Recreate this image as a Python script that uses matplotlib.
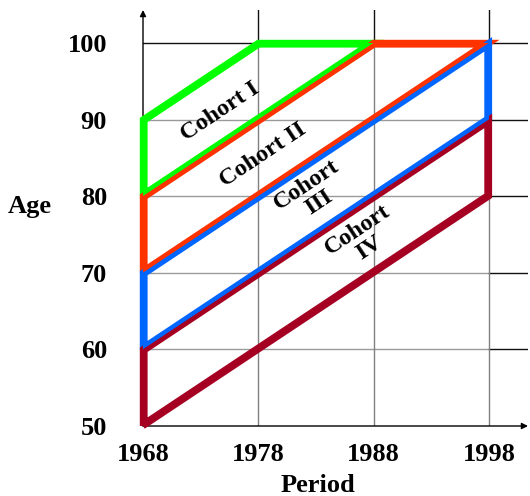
import matplotlib
matplotlib.use("Agg")
import matplotlib.pyplot as plt
from matplotlib.patches import Polygon

# ---- data ----
period_ticks = [1968, 1978, 1988, 1998]
age_ticks = [50, 60, 70, 80, 90, 100]

cohort_names = ["Cohort I", "Cohort II", "Cohort\nIII", "Cohort\nIV"]
cohort_colors = ["#00FF00", "#FF3300", "#0066FF", "#A50021"]

periods_I = [1968, 1968, 1978, 1988, 1968]
ages_I = [80, 90, 100, 100, 80]
periods_II = [1968, 1968, 1988, 1998, 1968]
ages_II = [70, 80, 100, 100, 70]
periods_III = [1968, 1968, 1998, 1998, 1968]
ages_III = [60, 70, 100, 90, 60]
periods_IV = [1968, 1968, 1998, 1998, 1968]
ages_IV = [50, 60, 90, 80, 50]

cohort_periods = [periods_I, periods_II, periods_III, periods_IV]
cohort_ages = [ages_I, ages_II, ages_III, ages_IV]

# label anchor (period, age) for each cohort text
label_pos = [(1974.7, 91.0), (1978.4, 85.4), (1982.7, 80.3), (1987.1, 74.4)]

plt.rcParams['font.family'] = ['Liberation Serif', 'DejaVu Serif']
plt.rcParams['font.weight'] = 'bold'

fig = plt.figure(figsize=(5.30, 4.96), dpi=100)
ax = fig.add_axes([143 / 530, (496 - 426) / 496, 385 / 530, 416 / 496])
xmin, xmax = 1968, 1968 + (528 - 143) / 11.53
ymin, ymax = 50, 100 + (43 - 10) / 7.66
ax.set_xlim(xmin, xmax)
ax.set_ylim(ymin, ymax)
for s in ax.spines.values():
    s.set_visible(False)

# grid: gray inside the 1968-1998 x 50-100 frame, dark outside
x_end = period_ticks[-1]
y_end = age_ticks[-1]
for a in age_ticks[1:]:
    inner = '#111111' if a == y_end else '#9a9a9a'
    ax.plot([xmin, x_end], [a, a], color=inner, lw=1.0, zorder=1)
    ax.plot([x_end, xmax], [a, a], color='#111111', lw=1.0, zorder=1)
for p in period_ticks[1:]:
    ax.plot([p, p], [ymin, y_end], color='#808080', lw=1.0, zorder=1)
    ax.plot([p, p], [y_end, ymax], color='#111111', lw=1.0, zorder=1)

# axes with arrows
ax.annotate('', xy=(1, 0), xytext=(0, 0), xycoords='axes fraction',
            arrowprops=dict(arrowstyle='-|>', color='black', lw=1.0,
                            mutation_scale=9, shrinkA=0, shrinkB=0), zorder=2)
ax.annotate('', xy=(0, 1), xytext=(0, 0), xycoords='axes fraction',
            arrowprops=dict(arrowstyle='-|>', color='black', lw=1.0,
                            mutation_scale=9, shrinkA=0, shrinkB=0), zorder=2)

# cohort polygons: centred stroke first, then an inset stroke clipped to
# each polygon's interior so shared edges show both colours side by side
px2pt = 72 / 100
for per, ag, col in zip(cohort_periods, cohort_ages, cohort_colors):
    ax.plot(per, ag, color=col, lw=6.4 * px2pt, solid_joinstyle='miter',
            solid_capstyle='butt', zorder=3, clip_on=False)
for per, ag, col in zip(cohort_periods, cohort_ages, cohort_colors):
    poly = Polygon(list(zip(per, ag)), closed=True, transform=ax.transData,
                   facecolor='none', edgecolor='none')
    ax.add_patch(poly)
    ln, = ax.plot(per, ag, color=col, lw=2 * 4.6 * px2pt,
                  solid_joinstyle='miter', zorder=3.5)
    ln.set_clip_path(poly)

# cohort labels
for name, (px, py) in zip(cohort_names, label_pos):
    ax.text(px, py, name, rotation=33.7, rotation_mode='anchor',
            ha='center', va='center', fontsize=17.5, fontweight='bold',
            linespacing=1.05, zorder=4)

ax.set_xticks(period_ticks)
ax.set_yticks(age_ticks)
ax.tick_params(length=0, labelsize=19, pad=12)
ax.tick_params(axis='y', pad=26)
for lab in ax.get_xticklabels() + ax.get_yticklabels():
    lab.set_fontweight('bold')

fig.text(30 / 530, 1 - 207 / 496, 'Age', ha='center', va='center',
         fontsize=19, fontweight='bold')
fig.text(318 / 530, 1 - 486 / 496, 'Period', ha='center', va='center',
         fontsize=19, fontweight='bold')

fig.savefig('out.png', dpi=100)
